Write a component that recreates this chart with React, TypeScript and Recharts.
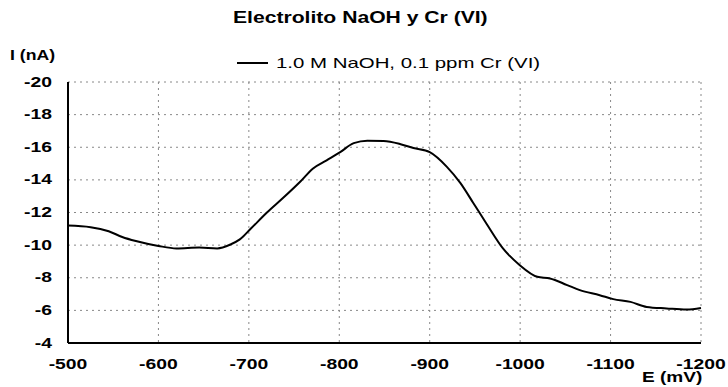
import { LineChart, CartesianGrid, Line, XAxis, YAxis } from 'recharts'

const potentials = [
    -500, -525, -545, -560, -575, -600, -620, -645, -665, -680, -690, -702, -720, -738, -757, -771,
    -786, -801, -816, -831, -849, -867, -882, -900, -919, -934, -948, -963, -981, -999, -1019, -1033,
    -1052, -1066, -1088, -1103, -1122, -1140, -1162, -1184, -1200,
]
const currents = [
    -11.2, -11.1, -10.85, -10.5, -10.25, -9.95, -9.8, -9.85, -9.8, -10.05, -10.35, -11.0, -12.0, -12.9, -13.9, -14.7,
    -15.2, -15.7, -16.25, -16.4, -16.38, -16.2, -15.95, -15.7, -14.8, -13.8, -12.6, -11.3, -9.8, -8.8, -8.06, -7.96,
    -7.55, -7.24, -6.93, -6.69, -6.52, -6.21, -6.12, -6.05, -6.15,
]
const xTicks = [-500, -600, -700, -800, -900, -1000, -1100, -1200]
const yTicks = [-20, -18, -16, -14, -12, -10, -8, -6, -4]
const seriesName = '1.0 M NaOH, 0.1 ppm Cr (VI)'

const data = potentials.map((e, i) => ({ e, i: currents[i] }))

const font = 'Arial, Liberation Sans, sans-serif'

// the scanned original has its text stretched sideways
function WideTick(props: any) {
    const { x, y, payload, anchor } = props
    return (
        <text
            transform={`translate(${x},${y}) scale(1.38,1)`}
            textAnchor={anchor}
            dominantBaseline="central"
            fontFamily={font}
            fontWeight="bold"
            fontSize={14}
            fill="#000"
        >
            {payload.value}
        </text>
    )
}

function WideLabel({ left, top, size, scale, bold, children }: any) {
    return (
        <div style={{
            position: 'absolute', left, top, fontFamily: font, fontSize: size, lineHeight: `${size}px`,
            fontWeight: bold ? 'bold' : 'normal', color: '#000', whiteSpace: 'nowrap',
            transform: `scaleX(${scale})`, transformOrigin: 'left center',
        }}>
            {children}
        </div>
    )
}

export default function App() {
    return (
        <div style={{ position: 'absolute', left: 0, top: 0, width: 728, height: 387, background: '#fff' }}>
            <WideLabel left={233} top={10} size={16} scale={1.32} bold>Electrolito NaOH y Cr (VI)</WideLabel>
            <WideLabel left={10} top={48} size={14} scale={1.26} bold>I (nA)</WideLabel>
            <WideLabel left={642} top={370} size={14} scale={1.36} bold>E (mV)</WideLabel>
            <div style={{ position: 'absolute', left: 237, top: 62, width: 31, height: 2, background: '#000' }} />
            <WideLabel left={276} top={55} size={15} scale={1.36}>{seriesName}</WideLabel>
            <LineChart
                width={728}
                height={387}
                data={data}
                margin={{ top: 82, right: 27, left: 8, bottom: 14 }}
            >
                <CartesianGrid stroke="#888" strokeDasharray="2 4" strokeWidth={1} />
                <XAxis
                    dataKey="e"
                    type="number"
                    domain={[-1200, -500]}
                    reversed
                    ticks={xTicks}
                    tick={<WideTick anchor="middle" />}
                    tickLine={false}
                    tickSize={0}
                    tickMargin={21}
                    height={30}
                    axisLine={{ stroke: '#000', strokeWidth: 2 }}
                />
                <YAxis
                    type="number"
                    domain={[-20, -4]}
                    reversed
                    ticks={yTicks}
                    tick={<WideTick anchor="end" />}
                    tickLine={false}
                    tickSize={0}
                    tickMargin={16}
                    width={60}
                    axisLine={{ stroke: '#000', strokeWidth: 2 }}
                />
                <Line
                    type="monotone"
                    dataKey="i"
                    name={seriesName}
                    stroke="#000"
                    strokeWidth={2}
                    dot={false}
                    isAnimationActive={false}
                />
            </LineChart>
        </div>
    )
}
